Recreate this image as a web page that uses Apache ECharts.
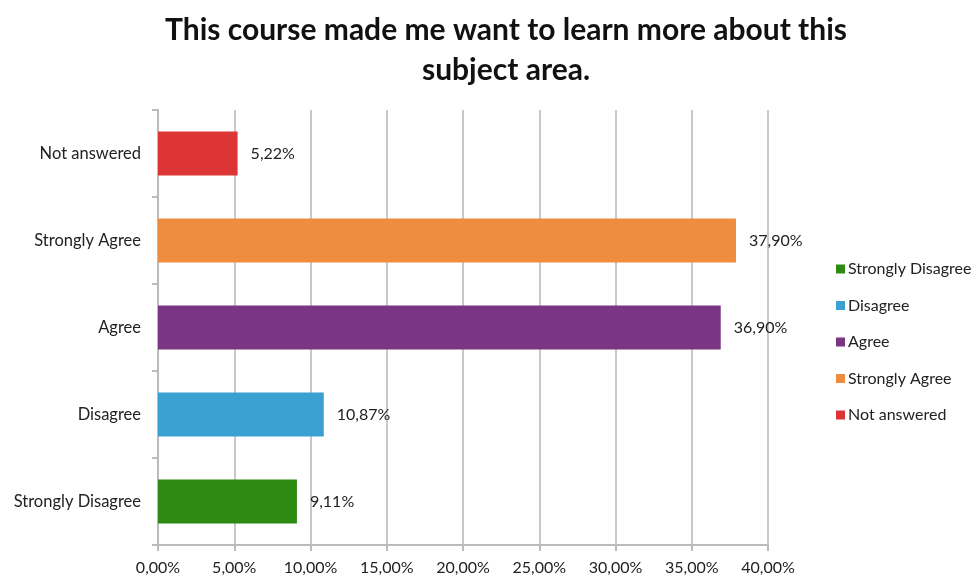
<!DOCTYPE html>
<html><head><meta charset="utf-8">
<script src="https://cdn.jsdelivr.net/npm/echarts@6/dist/echarts.min.js"></script>
<style>html,body{margin:0;padding:0;background:#fff}#c{width:979px;height:578px}</style>
</head><body><div id="c"></div>
<script>
const categories = ['Strongly Disagree','Disagree','Agree','Strongly Agree','Not answered'];
const values = [9.11, 10.87, 36.90, 37.90, 5.22];
const colors = ['#2e8a12','#3aa0d2','#7a3583','#ee8c3f','#dd3535'];
const xTicks = [0,5,10,15,20,25,30,35,40];
const font = 'Lato';
const fmt = v => v.toFixed(2).replace('.', ',') + '%';

const series = categories.map((name, i) => ({
  name: name,
  type: 'bar',
  stack: 'all',
  barWidth: 44,
  itemStyle: { color: colors[i] },
  data: categories.map((_, j) => j === i ? values[i] : null),
  label: {
    show: true, position: 'right', distance: 13,
    color: '#222', fontFamily: font, fontSize: 16,
    formatter: p => fmt(p.value)
  }
}));

const chart = echarts.init(document.getElementById('c'));
chart.setOption({
  animation: false,
  title: {
    text: 'This course made me want to learn more about this\nsubject area.',
    left: 501, top: 5, textAlign: 'center',
    textStyle: { fontFamily: font, fontWeight: 'bold', fontSize: 30, lineHeight: 40, color: '#111' }
  },
  legend: {
    orient: 'vertical', left: 831, top: 256, itemGap: 20.5,
    itemWidth: 9, itemHeight: 9, icon: 'rect',
    textStyle: { fontFamily: font, fontSize: 16, color: '#222', padding: [0, 0, 0, -2] },
    data: categories
  },
  grid: { left: 158, right: 211, top: 110, bottom: 33 },
  xAxis: {
    type: 'value', min: 0, max: 40, interval: 5,
    axisLine: { show: true, lineStyle: { color: '#bbb', width: 2 } },
    axisTick: { show: true, length: 6, lineStyle: { color: '#bbb', width: 2 } },
    splitLine: { show: true, lineStyle: { color: '#c8c8c8', width: 2 } },
    axisLabel: { fontFamily: font, fontSize: 16, color: '#222', margin: 15, formatter: v => fmt(v) }
  },
  yAxis: {
    type: 'category', data: categories,
    axisLine: { show: true, lineStyle: { color: '#bbb', width: 2 } },
    axisTick: { show: true, length: 6, lineStyle: { color: '#bbb', width: 2 } },
    axisLabel: { fontFamily: font, fontSize: 16.5, color: '#222', margin: 17 }
  },
  series: series
});
</script></body></html>
